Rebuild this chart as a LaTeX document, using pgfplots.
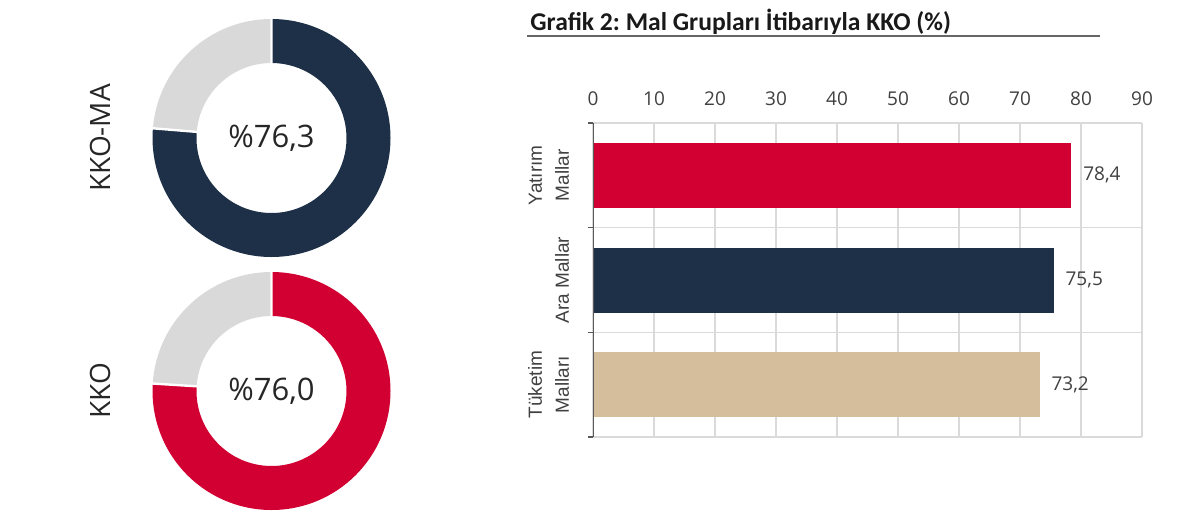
\documentclass[border=0pt]{standalone}
\usepackage{pgfplots}
\pgfplotsset{compat=1.18}
\usepackage{fontspec}
\setmainfont{Open Sans}
\newfontfamily\titlefont{Carlito}
\newfontfamily\arialfont{Liberation Sans}
\frenchspacing

\definecolor{kred}{HTML}{D20032}
\definecolor{knavy}{HTML}{1D3047}
\definecolor{ktan}{HTML}{D5BE9C}
\definecolor{kgray}{HTML}{D9D9D9}
\definecolor{kgrid}{HTML}{DADADA}
\definecolor{ktext}{HTML}{404040}

% donut: centre x, centre y (pixels), value (%), colour
\newcommand\donut[4]{%
  \begin{scope}[shift={(axis cs:#1,#2)}]
    \fill[#4] (90:59.5pt) arc[start angle=90, end angle={90-3.6*#3}, radius=59.5pt]
      -- ({90-3.6*#3}:37.5pt) arc[start angle={90-3.6*#3}, end angle=90, radius=37.5pt] -- cycle;
    \fill[kgray] ({90-3.6*#3}:59.5pt) arc[start angle={90-3.6*#3}, end angle=-270, radius=59.5pt]
      -- (-270:37.5pt) arc[start angle=-270, end angle={90-3.6*#3}, radius=37.5pt] -- cycle;
    \draw[white, line width=1.2pt] (90:36pt) -- (90:61pt) ({90-3.6*#3}:36pt) -- ({90-3.6*#3}:61pt);
    \node[font=\fontsize{15.5}{18}\selectfont, text=black!85] at (0,0)
      {\%\pgfmathprintnumber[use comma, fixed, fixed zerofill, precision=1, assume math mode=true]{#3}};
  \end{scope}}

\begin{document}
\begin{tikzpicture}
\useasboundingbox (0,0) rectangle (600pt,257.5pt);
% full canvas in reference pixel coordinates (y downwards)
\begin{axis}[
  at={(0,0)}, anchor=south west,
  scale only axis, width=600pt, height=257.5pt,
  xmin=0, xmax=1200, ymin=0, ymax=515, y dir=reverse,
  hide axis, clip=false,
]
  \donut{271.5}{138}{76.3}{knavy}
  \donut{271.5}{391}{76.0}{kred}
  \node[rotate=90, font=\fontsize{14}{16}\selectfont, text=black!85] at (axis cs:100,138) {KKO-MA};
  \node[rotate=90, font=\fontsize{14}{16}\selectfont, text=black!85] at (axis cs:100,391) {KKO};
  \node[anchor=base west, inner sep=0pt, font=\titlefont\bfseries\fontsize{12.8}{14}\selectfont, text=black!90]
    at (axis cs:530,30) {Grafik 2: Mal Grupları İtibarıyla KKO (\%)};
  \draw[black!60, line width=1pt] (axis cs:527,36) -- (axis cs:1100,36);
\end{axis}

\begin{axis}[
  at={(296.5pt,39pt)}, anchor=south west,
  scale only axis, width=274.5pt, height=157pt,
  xmin=0, xmax=90, ymin=-0.5, ymax=2.5,
  xbar, bar width=32.5pt,
  every axis plot/.append style={bar shift=0pt, draw=none},
  axis line style={draw=none},
  xtick={0,10,...,90}, xticklabel pos=upper,
  ytick={0,1,2},
  yticklabels={{Tüketim\\Malları},{Ara Mallar},{Yatırım\\Mallar}},
  minor ytick={-0.5,0.5,1.5,2.5},
  ytick pos=left,
  tick align=outside,
  major tick length=0pt, minor tick length=2.5pt,
  minor tick style={black!65, line width=0.8pt},
  xmajorgrids, yminorgrids,
  major grid style={kgrid, line width=0.6pt},
  minor grid style={kgrid, line width=0.6pt},
  xticklabel style={font=\fontsize{9.5}{11}\selectfont, text=ktext, yshift=5pt},
  yticklabel style={rotate=90, anchor=south, align=center,
    font=\arialfont\fontsize{9.5}{13.5}\selectfont, text=ktext, yshift=8.5pt},
  /pgf/number format/assume math mode=true,
  point meta=x,
  nodes near coords={\pgfmathprintnumber[use comma, fixed, fixed zerofill, precision=1]{\pgfplotspointmeta}},
  every node near coord/.append style={font=\fontsize{9.5}{11}\selectfont, text=ktext, xshift=2.5pt},
]
  \addplot[fill=kred] coordinates {(78.4,2)};
  \addplot[fill=knavy] coordinates {(75.5,1)};
  \addplot[fill=ktan] coordinates {(73.2,0)};
  \draw[black!65, line width=0.8pt] (axis cs:0,-0.5) -- (axis cs:0,2.5);
\end{axis}
\end{tikzpicture}
\end{document}
